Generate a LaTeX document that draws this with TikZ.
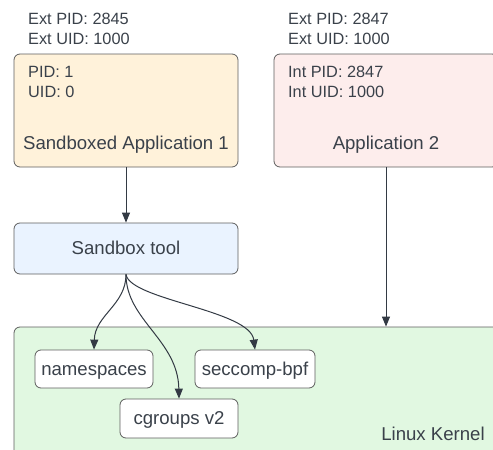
\documentclass[tikz,border=0pt]{standalone}
\usepackage{fontspec}
\setmainfont{Liberation Sans}
\usepackage{xcolor}
\definecolor{textgray}{RGB}{58, 65, 74}
\definecolor{boxgray}{RGB}{94, 94, 94}
\definecolor{arrowgray}{RGB}{51, 58, 68}
\definecolor{appcream}{RGB}{255, 242, 218}
\definecolor{apppink}{RGB}{253, 237, 236}
\definecolor{toolblue}{RGB}{234, 243, 255}
\definecolor{kernelgreen}{RGB}{225, 248, 225}
\usetikzlibrary{arrows.meta,positioning}

\begin{document}
\begin{tikzpicture}[
    x=1pt, y=-1pt,
    box/.style={
        rectangle,
        rounded corners=6pt,
        draw=boxgray,
        line width=0.8pt,
        text=textgray,
        text height=12pt,
        text depth=0pt,
        font=\fontsize{18.6}{22}\selectfont
    },
    big/.style={inner sep=0pt, text=textgray, font=\fontsize{18.6}{22}\selectfont},
    small/.style={inner sep=0pt, anchor=base west, text=textgray, font=\fontsize{16.3}{20}\selectfont},
    arrow/.style={-{Triangle[length=10pt,width=8pt]}, line width=1pt, arrowgray}
]
    \clip (0,0) rectangle (493,450);

    % Kernel
    \node[box, fill=kernelgreen, minimum width=516pt, minimum height=153pt] (kernel) at (272,403.5) {};
    \node[big, anchor=base] (kernellabel) at (433,440) {Linux Kernel};

    % Applications
    \node[box, fill=appcream, minimum width=224pt, minimum height=113pt] (app1) at (126,110.5) {};
    \node[box, fill=apppink, minimum width=224pt, minimum height=113pt] (app2) at (386,110.5) {};
    \node[big, anchor=base] (app1label) at (126,149) {Sandboxed Application 1};
    \node[big, anchor=base] (app2label) at (386,149) {Application 2};

    % IDs
    \node[small] (extpid1) at (28,24) {Ext PID: 2845};
    \node[small] (extuid1) at (28,44) {Ext UID: 1000};
    \node[small] (pid1) at (28,77) {PID: 1};
    \node[small] (uid1) at (28,97) {UID: 0};
    \node[small] (extpid2) at (288,24) {Ext PID: 2847};
    \node[small] (extuid2) at (288,44) {Ext UID: 1000};
    \node[small] (intpid2) at (288,77) {Int PID: 2847};
    \node[small] (intuid2) at (288,97) {Int UID: 1000};

    % Sandbox tool and kernel features
    \node[box, fill=toolblue, minimum width=224pt, minimum height=51pt] (tool) at (126,248.5) {Sandbox tool};
    \node[box, fill=white, minimum width=118pt, minimum height=38pt] (ns) at (94,369) {namespaces};
    \node[box, fill=white, minimum width=118pt, minimum height=39pt] (cg) at (179,418.5) {cgroups v2};
    \node[box, fill=white, minimum width=120pt, minimum height=38pt] (sc) at (255,369) {seccomp-bpf};

    % Arrows
    \draw[arrow] (app1) -- (tool);
    \draw[arrow] (app2.south) -- (app2.south |- kernel.north);
    \draw[arrow] (tool.south) .. controls (126,305) and (95,315) .. (ns.north);
    \draw[arrow] (tool.south) .. controls (126,320) and (178,340) .. (cg.north);
    \draw[arrow] (tool.south) .. controls (130,300) and (250,310) .. (sc.north);
\end{tikzpicture}
\end{document}
